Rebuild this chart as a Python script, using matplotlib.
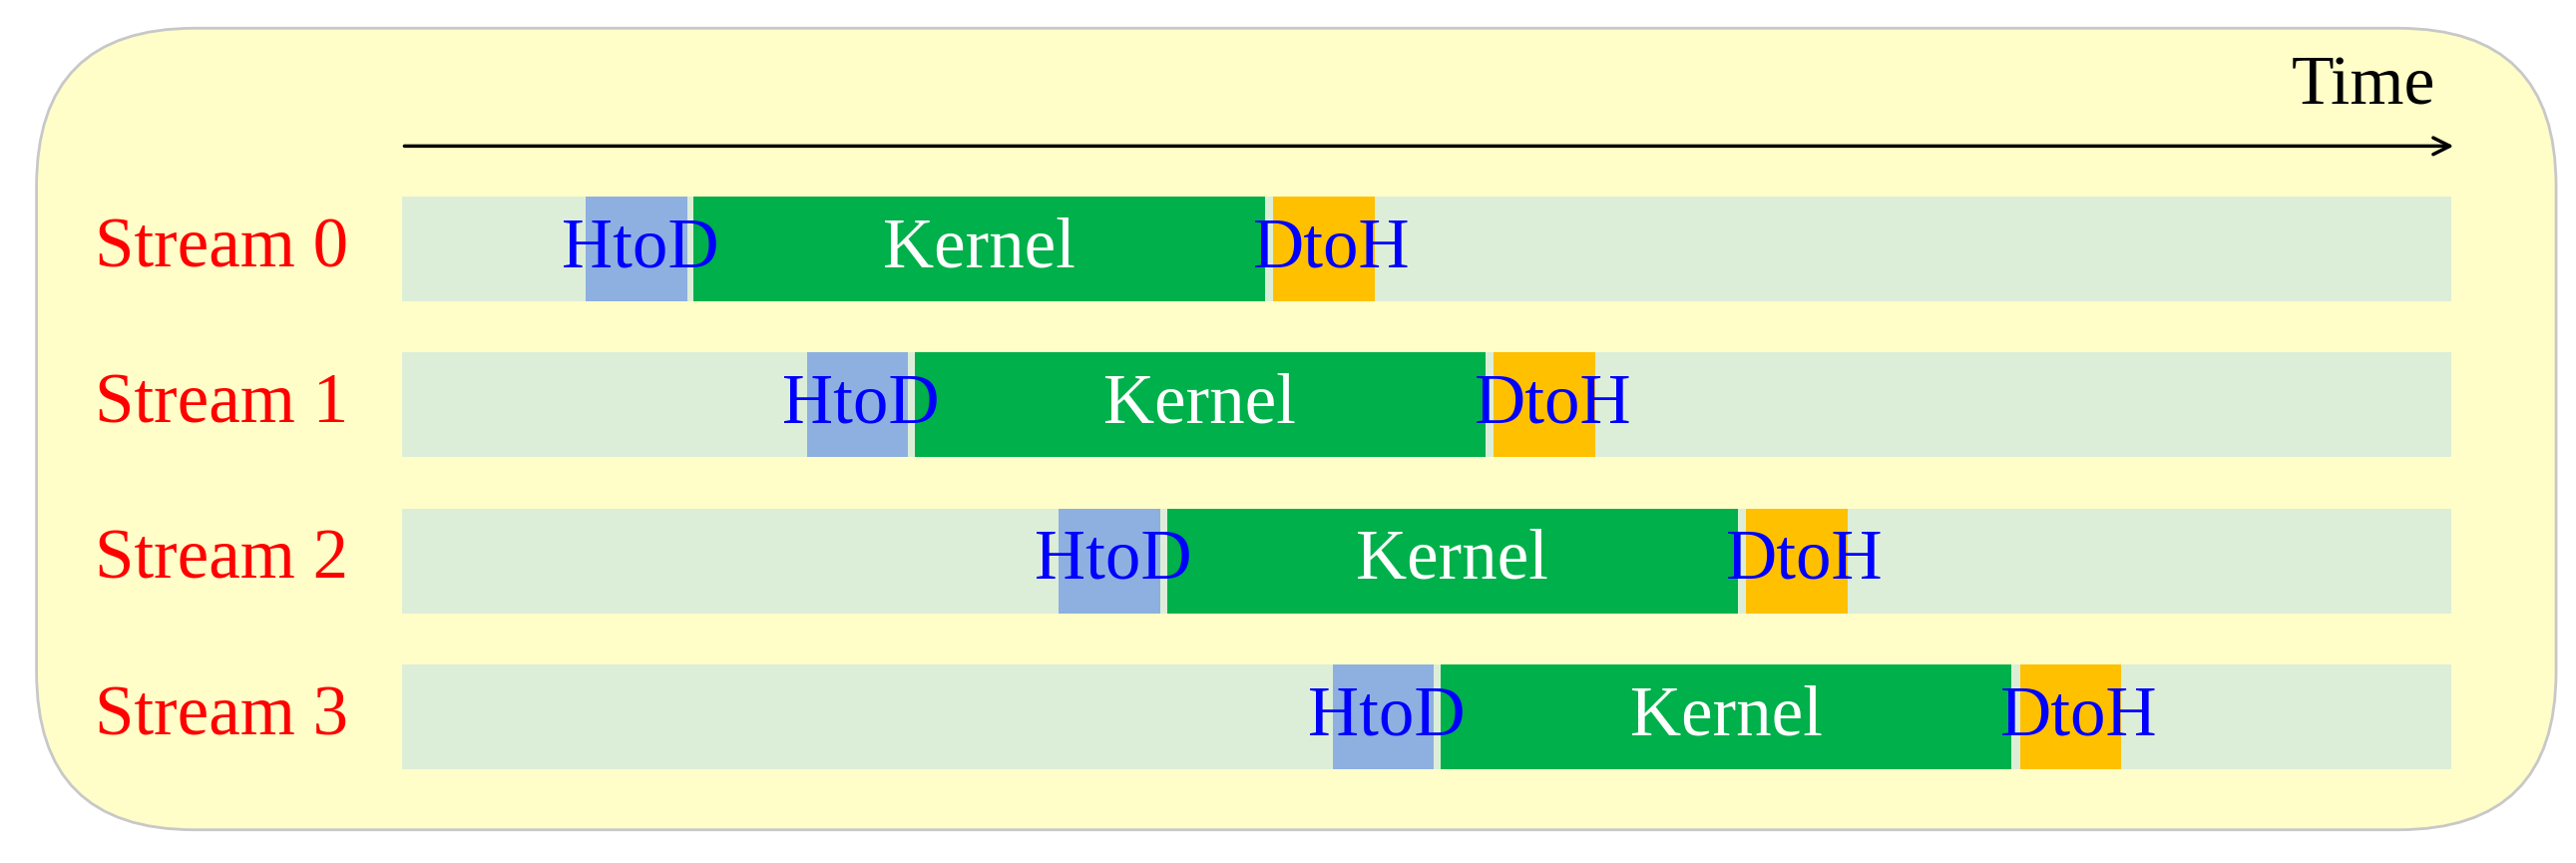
import matplotlib.pyplot as plt
from matplotlib.patches import FancyBboxPatch, Rectangle

streams = ["Stream 0", "Stream 1", "Stream 2", "Stream 3"]
htod_start = [353, 486, 638, 803]
htod_len = [61, 61, 61, 61]
kernel_start = [418, 551, 703, 868]
kernel_len = [344, 344, 344, 344]
dtoh_start = [767, 900, 1052, 1217]
dtoh_len = [61, 61, 61, 61]
t_start, t_end = 242, 1477

W, H = 1552, 520
fig = plt.figure(figsize=(25.82, 8.65), dpi=100)
ax = fig.add_axes([0, 0, 1, 1])
ax.set_xlim(0, W)
ax.set_ylim(H, 0)
ax.axis("off")

ax.add_patch(FancyBboxPatch((22, 17), 1518, 483, boxstyle="round,pad=0,rounding_size=95",
                            fc="#fffdc8", ec="#c8c8c8", lw=2))

ax.annotate("", xy=(t_end + 3, 88), xytext=(t_start, 88),
            arrowprops=dict(arrowstyle="->", lw=2.5, color="black", mutation_scale=30))
ax.text(t_end - 10, 72, "Time", ha="right", va="bottom", fontsize=50, family="Liberation Serif")

fs = 51
for i, name in enumerate(streams):
    yc = 150 + i * 94
    h = 63
    ax.add_patch(Rectangle((t_start, yc - h / 2), t_end - t_start, h, fc="#ddeed8", ec="none"))
    ax.add_patch(Rectangle((htod_start[i], yc - h / 2), htod_len[i], h, fc="#8db0e0", ec="none"))
    ax.add_patch(Rectangle((kernel_start[i], yc - h / 2), kernel_len[i], h, fc="#00b04a", ec="none"))
    ax.add_patch(Rectangle((dtoh_start[i], yc - h / 2), dtoh_len[i], h, fc="#ffc000", ec="none"))
    ax.text(210, yc, name, ha="right", va="center", color="red", fontsize=fs, family="Liberation Serif")
    ax.text(htod_start[i] + htod_len[i] / 2 + 2, yc, "HtoD", ha="center", va="center",
            color="blue", fontsize=fs, family="Liberation Serif")
    ax.text(kernel_start[i] + kernel_len[i] / 2, yc, "Kernel", ha="center", va="center",
            color="white", fontsize=fs, family="Liberation Serif")
    ax.text(dtoh_start[i] + dtoh_len[i] / 2 + 5, yc, "DtoH", ha="center", va="center",
            color="blue", fontsize=fs, family="Liberation Serif")

fig.savefig("out.png", dpi=100)
